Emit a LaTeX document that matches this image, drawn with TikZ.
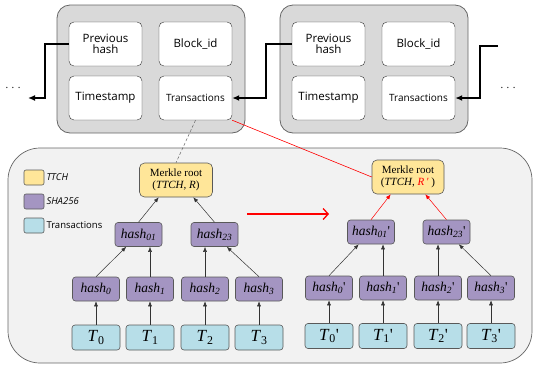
\documentclass[tikz,border=0pt]{standalone}
\usepackage{fontspec}
\setmainfont{Open Sans}
\newfontfamily\tms{Liberation Serif}
\usetikzlibrary{arrows.meta}

\definecolor{blockgray}{HTML}{D9D9D9}
\definecolor{panelgray}{HTML}{F2F2F2}
\definecolor{ttch}{HTML}{FFE699}
\definecolor{sha}{HTML}{A495C2}
\definecolor{txc}{HTML}{B7DEE8}

% labels of the tree
\newcommand{\hs}[1]{\textit{hash}\textsubscript{\textit{#1}}}
\newcommand{\tx}[1]{\textit{T}\textsubscript{#1}}

\begin{document}
\begin{tikzpicture}[x=1pt, y=-1pt, >={Latex[length=5pt,width=4pt]},
    block/.style={draw=black!60, fill=blockgray, rounded corners=13pt, line width=0.8pt},
    field/.style={draw=black!80, fill=white, rounded corners=5pt, minimum width=73pt,
      minimum height=44pt, inner sep=0pt, align=center, font=\fontsize{11.5}{13}\selectfont},
    link/.style={line width=1.7pt, -{Latex[length=7pt,width=6pt]}},
    treebox/.style={draw=black!65, rounded corners=3pt, inner sep=0pt, line width=0.6pt},
    hashbox/.style={treebox, fill=sha, minimum width=47pt, minimum height=24pt,
      font=\tms\fontsize{13.5}{14}\selectfont},
    txbox/.style={treebox, fill=txc, minimum width=48pt, minimum height=25pt,
      font=\tms\fontsize{17}{18}\selectfont},
    rootbox/.style={treebox, fill=ttch, rounded corners=5pt, minimum width=73pt,
      minimum height=34pt, align=center, font=\tms\fontsize{11}{12.5}\selectfont},
    legbox/.style={treebox, rounded corners=2pt, minimum width=20pt, minimum height=15pt},
    legtext/.style={right, font=\fontsize{9.5}{11}\selectfont, inner sep=2pt},
    edge/.style={->, line width=0.5pt, black!80}]

  \useasboundingbox (0,0) rectangle (534,365);

  % lower panel
  \fill[panelgray, draw=black!60, line width=0.7pt, rounded corners=32pt]
    (8,148) rectangle (532,363);

  % the two blocks of the chain
  \foreach \b/\x in {1/105.5, 2/328.5} {
    \draw[block] (\x-48.5,5) rectangle (\x+139.5,133);
    \node[field] (prev\b) at (\x,44) {Previous\\[-2pt]hash};
    \node[field] (bid\b) at (\x+90,44) {Block\_id};
    \node[field] (time\b) at (\x,98) {Timestamp};
    \node[field, font=\fontsize{10}{12}\selectfont] (trans\b) at (\x+90,98) {Transactions};
  }

  \coordinate (lend) at (28,98);
  \coordinate (rstart) at (498,46);
  \node (dotsl) at (13,88) {. . .};
  \node (dotsr) at (508,88) {. . .};

  \draw[link] (prev1.west) -- ++(-24,0) |- (lend);
  \draw[link] (prev2.west) -- ++(-26,0) |- (trans1.east);
  \draw[link] (rstart) -- ++(-18,0) |- (trans2.east);

  % legend
  \node[legbox, fill=ttch] (leg1) at (34,177.5) {};
  \node[legbox, fill=sha] (leg2) at (34,201.5) {};
  \node[legbox, fill=txc] (leg3) at (34,225.5) {};
  \node[legtext] (legt1) at (leg1.east) {\textit{TTCH}};
  \node[legtext] (legt2) at (leg2.east) {\textit{SHA256}};
  \node[legtext] (legt3) at (leg3.east) {Transactions};

  % merkle tree, original
  \foreach \i/\x in {0/96, 1/150, 2/205, 3/259} {
    \node[hashbox] (h\i) at (\x,289) {\hs{\i}};
    \node[txbox] (t\i) at (\x,337.5) {\tx{\i}};
    \draw[edge] (t\i) -- (h\i);
  }
  \node[hashbox] (h01) at (138.5,234.5) {\hs{01}};
  \node[hashbox] (h23) at (214.5,234.5) {\hs{23}};
  \node[rootbox] (root) at (176,180) {Merkle root\\(\textit{TTCH, R})};

  \draw[edge] (h0.north) -- (h01.-135);
  \draw[edge] (h1.north) -- (h1.north |- h01.south);
  \draw[edge] (h2.north) -- (h2.north |- h23.south);
  \draw[edge] (h3.north) -- (h23.-45);
  \draw[edge] (h01.north) -- (root.-135);
  \draw[edge] (h23.north) -- (root.-45);

  % merkle tree, modified
  \foreach \i/\x in {0/329, 1/383, 2/438, 3/491} {
    \node[hashbox] (hm\i) at (\x,288) {\hs{\i}\textquotesingle};
    \node[txbox] (tm\i) at (\x,336) {\tx{\i}\textquotesingle};
    \draw[edge] (tm\i) -- (hm\i);
  }
  \node[hashbox] (hm01) at (371,232) {\hs{01}\textquotesingle};
  \node[hashbox] (hm23) at (446.5,232) {\hs{23}\textquotesingle};
  \node[rootbox, minimum width=72pt] (rootm) at (408,177)
    {Merkle root\\(\textit{TTCH}, \textcolor{red}{\textit{R\,\textquotesingle}}\ )};

  \draw[edge] (hm0.north) -- (hm01.-135);
  \draw[edge] (hm1.north) -- (hm1.north |- hm01.south);
  \draw[edge] (hm2.north) -- (hm2.north |- hm23.south);
  \draw[edge] (hm3.north) -- (hm23.-45);
  \draw[edge, red] (hm01.north) -- (rootm.-135);
  \draw[edge, red] (hm23.north) -- (rootm.-45);

  % links from the block down to the trees
  \draw[dash pattern=on 3pt off 2pt, black!60, line width=0.5pt] (trans1.south) -- (root.north);
  \draw[red, line width=0.6pt] (trans1.south east) -- (rootm.west);

  \coordinate (chfrom) at (247,214);
  \coordinate (chto) at (329,214);
  \draw[red, line width=1.3pt, -{Straight Barb[length=5pt,width=11pt]}] (chfrom) -- (chto);
\end{tikzpicture}
\end{document}
